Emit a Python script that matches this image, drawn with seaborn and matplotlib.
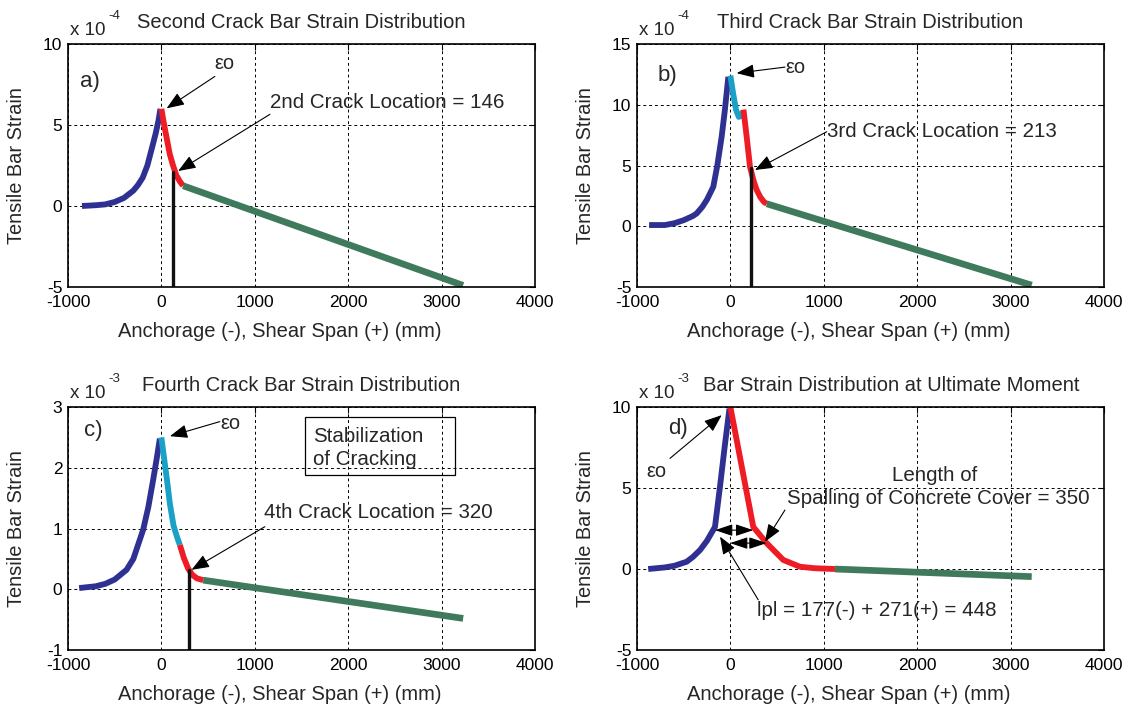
import numpy as np
import matplotlib
matplotlib.use('Agg')
import matplotlib.pyplot as plt
import seaborn as sns
from matplotlib.patches import Rectangle

sns.set_theme(style='white')
plt.rcParams['font.family'] = ['Liberation Sans', 'DejaVu Sans']
plt.rcParams['axes.unicode_minus'] = False

# 색상
BLUE = '#2e3192'
CYAN = '#1ba1c8'
RED = '#ee1c24'
GREEN = '#3f7a5c'

# a) 두번째 균열 (x 10^-4)
a_blue_x = [-850, -700, -600, -500, -400, -300, -250, -200, -150, -100, -60, -30, -10]
a_blue_y = [0.0, 0.05, 0.1, 0.25, 0.5, 0.95, 1.3, 1.75, 2.5, 3.6, 4.5, 5.3, 6.0]
a_red_x = [0, 30, 60, 90, 125, 160, 200, 233]
a_red_y = [6.0, 5.0, 4.1, 3.2, 2.5, 1.9, 1.5, 1.25]
a_green_x = [233, 3230]
a_green_y = [1.25, -4.9]
a_crack_x = 125
a_crack_top = 2.1

# b) 세번째 균열 (x 10^-4)
b_blue_x = [-870, -700, -600, -500, -400, -360, -300, -250, -183, -140, -93, -60, -22]
b_blue_y = [0.1, 0.1, 0.25, 0.5, 0.85, 1.06, 1.6, 2.2, 3.25, 5.0, 7.4, 9.5, 12.3]
b_cyan_x = [0, 30, 60, 90, 120, 140]
b_cyan_y = [12.4, 10.9, 9.6, 9.0, 9.1, 9.5]
b_red_x = [140, 174, 210, 250, 281, 320, 360, 390]
b_red_y = [9.6, 7.4, 4.9, 3.7, 3.0, 2.4, 2.0, 1.85]
b_green_x = [390, 3226]
b_green_y = [1.85, -4.85]
b_crack_x = 217
b_crack_top = 4.8

# c) 네번째 균열 (x 10^-3)
c_blue_x = [-880, -700, -600, -500, -373, -300, -195, -140, -88, -50, -16]
c_blue_y = [0.02, 0.05, 0.09, 0.16, 0.32, 0.5, 0.98, 1.35, 1.8, 2.15, 2.48]
c_cyan_x = [0, 30, 60, 91, 130, 170, 198]
c_cyan_y = [2.5, 2.15, 1.8, 1.41, 1.05, 0.85, 0.73]
c_red_x = [198, 240, 287, 330, 380, 448]
c_red_y = [0.73, 0.52, 0.34, 0.24, 0.18, 0.15]
c_green_x = [448, 3231]
c_green_y = [0.15, -0.48]
c_crack_x = 298
c_crack_top = 0.32

# d) 극한모멘트 (x 10^-3)
d_blue_x = [-880, -700, -600, -468, -400, -325, -250, -165, -111, -60, -10]
d_blue_y = [0.0, 0.1, 0.2, 0.45, 0.75, 1.17, 1.75, 2.6, 5.1, 7.6, 9.9]
d_red_x = [0, 245, 388, 566, 745, 900, 1120]
d_red_y = [10.0, 2.6, 1.6, 0.56, 0.14, 0.05, 0.0]
d_green_x = [1120, 3226]
d_green_y = [0.0, -0.47]

x_ticks = [-1000, 0, 1000, 2000, 3000, 4000]

fig = plt.figure(figsize=(11.27, 7.09), dpi=100)
W = 0.4144
H = 0.3427
ax_a = fig.add_axes([0.0603, 0.5952, W, H])
ax_b = fig.add_axes([0.5652, 0.5952, W, H])
ax_c = fig.add_axes([0.0603, 0.0832, W, H])
ax_d = fig.add_axes([0.5652, 0.0832, W, H])


def seg(ax, x, y, color, lw=4.2):
    sns.lineplot(x=x, y=y, ax=ax, color=color, lw=lw, sort=False,
                 estimator=None, solid_capstyle='butt')


def base(ax, ylim, yticks, title, tx, power):
    ax.set_xlim(-1000, 4000)
    ax.set_ylim(*ylim)
    ax.set_xticks(x_ticks)
    ax.set_yticks(yticks)
    ax.grid(True, color='black', linestyle=(0, (3, 3)), lw=0.7)
    for s in ax.spines.values():
        s.set_color('black')
        s.set_linewidth(1.2)
    ax.tick_params(direction='in', length=4, width=0.8, labelsize=12.5,
                   colors='black', top=True, right=True)
    ax.tick_params(axis='x', pad=6)
    ax.tick_params(axis='y', pad=4)
    ax.set_xlabel('Anchorage (-), Shear Span (+) (mm)', fontsize=14.5)
    ax.set_ylabel('Tensile Bar Strain', fontsize=14.4)
    ax.xaxis.set_label_coords(0.453, -0.145)
    ax.yaxis.set_label_coords(-0.09, 0.5)
    ax.text(tx, 1.09, title, transform=ax.transAxes, ha='center',
            va='center', fontsize=14.5)
    ax.text(0.004, 1.055, 'x 10', transform=ax.transAxes,
            ha='left', va='center', fontsize=13.5)
    ax.text(0.086, 1.115, power, transform=ax.transAxes,
            ha='left', va='center', fontsize=9.5)


def arrow(ax, start, end):
    ax.annotate('', xy=end, xytext=start,
                arrowprops=dict(arrowstyle='-|>,head_length=0.9,head_width=0.35',
                                color='black', lw=0.8, shrinkA=0, shrinkB=0))


FS = 14.8

# a)
base(ax_a, (-5, 10), [-5, 0, 5, 10], 'Second Crack Bar Strain Distribution', 0.5, '-4')
seg(ax_a, a_blue_x, a_blue_y, BLUE)
seg(ax_a, a_red_x, a_red_y, RED)
seg(ax_a, a_green_x, a_green_y, GREEN, lw=4.8)
ax_a.plot([a_crack_x, a_crack_x], [-5, a_crack_top], color='#111111', lw=2.4)
ax_a.text(-766, 7.7, 'a)', fontsize=16, ha='center', va='center')
ax_a.text(680, 8.8, 'εo', fontsize=14.5, ha='center', va='center')
arrow(ax_a, (573, 8.0), (56, 6.03))
ax_a.text(1160, 6.38, '2nd Crack Location = 146', fontsize=FS, ha='left', va='center')
arrow(ax_a, (1162, 5.66), (180, 2.16))

# b)
base(ax_b, (-5, 15), [-5, 0, 5, 10, 15], 'Third Crack Bar Strain Distribution', 0.499, '-4')
seg(ax_b, b_blue_x, b_blue_y, BLUE)
seg(ax_b, b_cyan_x, b_cyan_y, CYAN)
seg(ax_b, b_red_x, b_red_y, RED)
seg(ax_b, b_green_x, b_green_y, GREEN, lw=4.8)
ax_b.plot([b_crack_x, b_crack_x], [-5, b_crack_top], color='#111111', lw=2.4)
ax_b.text(-670, 12.4, 'b)', fontsize=16, ha='center', va='center')
ax_b.text(700, 13.1, 'εo', fontsize=14.5, ha='center', va='center')
arrow(ax_b, (584, 13.1), (67, 12.6))
ax_b.text(1030, 7.78, '3rd Crack Location = 213', fontsize=FS, ha='left', va='center')
arrow(ax_b, (1031, 7.78), (263, 4.63))

# c)
base(ax_c, (-1, 3), [-1, 0, 1, 2, 3], 'Fourth Crack Bar Strain Distribution', 0.5, '-3')
seg(ax_c, c_blue_x, c_blue_y, BLUE)
seg(ax_c, c_cyan_x, c_cyan_y, CYAN)
seg(ax_c, c_red_x, c_red_y, RED)
seg(ax_c, c_green_x, c_green_y, GREEN, lw=4.8)
ax_c.plot([c_crack_x, c_crack_x], [-1, c_crack_top], color='#111111', lw=2.4)
ax_c.text(-733, 2.62, 'c)', fontsize=16, ha='center', va='center')
ax_c.text(740, 2.73, 'εo', fontsize=14.5, ha='center', va='center')
arrow(ax_c, (626, 2.76), (91, 2.52))
ax_c.add_patch(Rectangle((1536, 1.88), 1606, 0.96, fill=False, ec='black', lw=0.9))
ax_c.text(1625, 2.51, 'Stabilization', fontsize=FS, ha='left', va='center')
ax_c.text(1625, 2.13, 'of Cracking', fontsize=FS, ha='left', va='center')
ax_c.text(1100, 1.26, '4th Crack Location = 320', fontsize=FS, ha='left', va='center')
arrow(ax_c, (1108, 1.03), (323, 0.32))

# d)
base(ax_d, (-5, 10), [-5, 0, 5, 10], 'Bar Strain Distribution at Ultimate Moment', 0.545, '-3')
seg(ax_d, d_blue_x, d_blue_y, BLUE)
seg(ax_d, d_red_x, d_red_y, RED)
seg(ax_d, d_green_x, d_green_y, GREEN, lw=4.8)
ax_d.text(-558, 8.7, 'd)', fontsize=16, ha='center', va='center')
ax_d.text(-789, 6.0, 'εo', fontsize=14.5, ha='center', va='center')
arrow(ax_d, (-647, 6.83), (-93, 9.5))
ax_d.text(2190, 5.8, 'Length of', fontsize=FS, ha='center', va='center')
ax_d.text(2230, 4.36, 'Spalling of Concrete Cover = 350', fontsize=FS, ha='center', va='center')
arrow(ax_d, (584, 3.64), (370, 1.68))
for (x0, x1, yy) in [(-165, 245, 2.4), (-4, 388, 1.6)]:
    ax_d.annotate('', xy=(x1, yy), xytext=(x0, yy),
                  arrowprops=dict(arrowstyle='<|-|>,head_length=0.9,head_width=0.3',
                                  color='#555555', lw=0.8, shrinkA=0, shrinkB=0,
                                  fc='black', ec='black'))
ax_d.text(290, -2.53, 'lpl = 177(-) + 271(+) = 448', fontsize=FS, ha='left', va='center')
arrow(ax_d, (298, -1.9), (-111, 2.0))

fig.savefig('out.png', dpi=100)
